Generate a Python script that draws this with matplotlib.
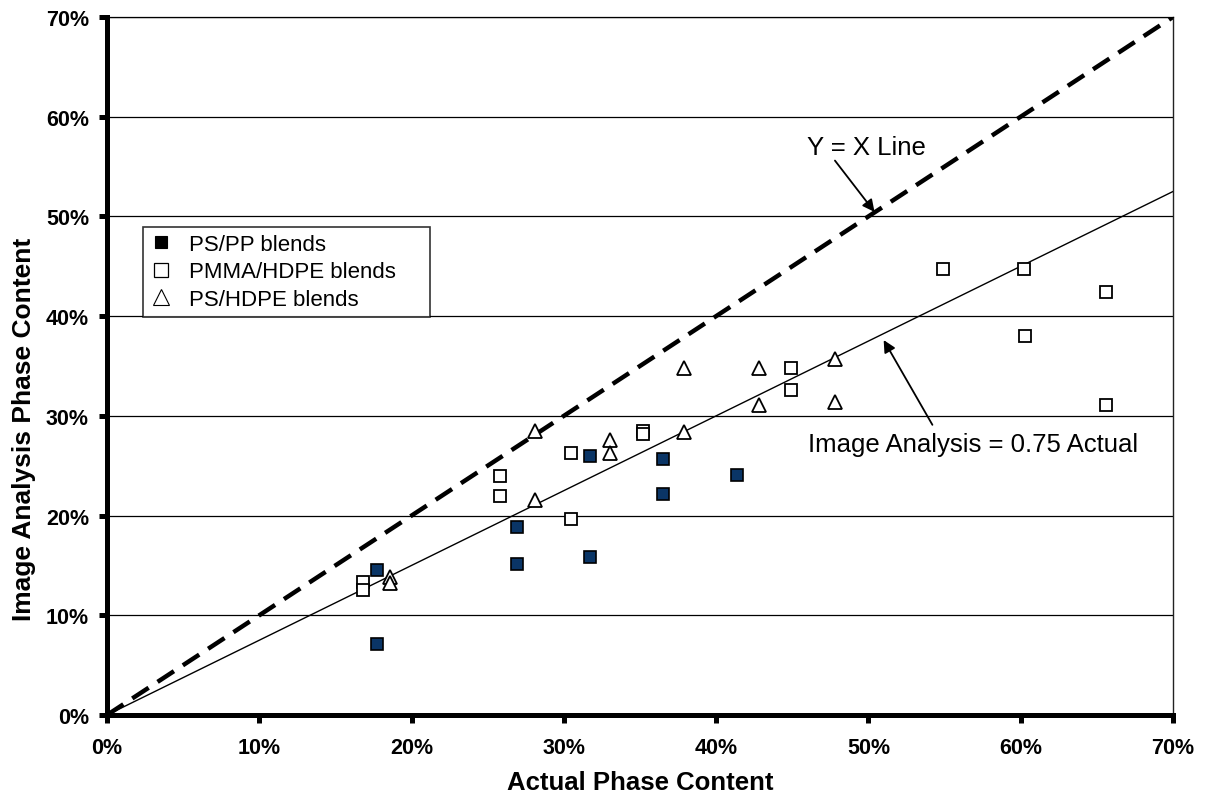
import matplotlib
matplotlib.use("Agg")
import matplotlib.pyplot as plt
from matplotlib.lines import Line2D

plt.rcParams['font.family'] = ['Liberation Sans', 'DejaVu Sans']

# ---- data (percent) ----
pspp_x = [17.7, 17.7, 26.9, 26.9, 31.7, 31.7, 36.5, 36.5, 41.4]
pspp_y = [14.5, 7.1, 18.9, 15.1, 26.0, 15.8, 25.7, 22.2, 24.1]

pmma_x = [16.8, 16.8, 25.8, 25.8, 30.5, 30.5, 35.2, 35.2, 44.9, 44.9, 54.9, 60.2, 60.3, 65.6, 65.6]
pmma_y = [13.3, 12.5, 24.0, 22.0, 26.3, 19.7, 28.5, 28.2, 34.8, 32.6, 44.7, 44.7, 38.0, 42.4, 31.1]

pshdpe_x = [18.6, 18.6, 28.1, 28.1, 33.0, 33.0, 37.9, 37.9, 42.8, 42.8, 47.8, 47.8]
pshdpe_y = [13.8, 13.2, 28.5, 21.6, 27.6, 26.3, 34.8, 28.4, 34.8, 31.1, 35.7, 31.4]

line_x = [0, 70]
yx_line = [0, 70]
fit_slope = 0.75
fit_line = [fit_slope * v for v in line_x]

ticks = [0, 10, 20, 30, 40, 50, 60, 70]
tick_labels = [f"{t}%" for t in ticks]

legend_labels = ["PS/PP blends", "PMMA/HDPE blends", "PS/HDPE blends"]

fig = plt.figure(figsize=(12.14, 8.04), dpi=100)
ax = fig.add_axes([0.08814, 0.10945, 0.8781, 0.8682])
ax.set_xlim(0, 70)
ax.set_ylim(0, 70)

# gridlines
for t in ticks[1:]:
    ax.axhline(t, color='black', lw=0.9, zorder=1)

# lines
ax.plot(line_x, yx_line, color='black', lw=3.2, dashes=(4.4, 2.4), zorder=2,
        solid_capstyle='butt', dash_capstyle='butt')
ax.plot(line_x, fit_line, color='black', lw=1.0, zorder=2)

# points
ax.plot(pspp_x, pspp_y, ls='none', marker='s', ms=9, mfc='#0a3566', mec='black', mew=1.2, zorder=4)
ax.plot(pmma_x, pmma_y, ls='none', marker='s', ms=9, mfc='white', mec='black', mew=1.3, zorder=4)
ax.plot(pshdpe_x, pshdpe_y, ls='none', marker='^', ms=10.5, mfc='white', mec='black', mew=1.3, zorder=4)

# annotations
ax.text(49.9, 57.0, "Y = X Line", ha='center', va='center', fontsize=18.5, zorder=5)
ax.annotate('', xy=(50.4, 50.45), xytext=(47.8, 55.6),
            arrowprops=dict(arrowstyle='-|>', color='black', lw=1.3, mutation_scale=18,
                            shrinkA=0, shrinkB=0), zorder=5)
ax.text(56.9, 27.2, "Image Analysis = 0.75 Actual", ha='center', va='center', fontsize=18.5, zorder=5)
ax.annotate('', xy=(51.0, 37.6), xytext=(54.2, 29.1),
            arrowprops=dict(arrowstyle='-|>', color='black', lw=1.3, mutation_scale=18,
                            shrinkA=0, shrinkB=0), zorder=5)

# spines & ticks
for s in ['left', 'bottom']:
    ax.spines[s].set_linewidth(3.6)
    ax.spines[s].set_color('black')
    ax.spines[s].set_zorder(6)
ax.spines['right'].set_linewidth(1.0)
ax.spines['right'].set_color('#222222')
ax.spines['top'].set_linewidth(0.9)
ax.spines['top'].set_color('black')

ax.set_xticks(ticks)
ax.set_xticklabels(tick_labels, fontsize=15.5, fontweight='bold')
ax.set_yticks(ticks)
ax.set_yticklabels(tick_labels, fontsize=15.5, fontweight='bold')
ax.tick_params(axis='both', direction='out', length=6, width=3.6, color='black')
ax.tick_params(axis='x', pad=10)
ax.tick_params(axis='y', pad=7)

ax.set_xlabel("Actual Phase Content", fontsize=18.5, fontweight='bold')
ax.xaxis.set_label_coords(0.5, -0.079)
ax.set_ylabel("Image Analysis Phase Content", fontsize=19, fontweight='bold')
ax.yaxis.set_label_coords(-0.067, 0.41)

# legend
handles = [
    Line2D([], [], ls='none', marker='s', ms=8.5, mfc='black', mec='black', mew=0.8),
    Line2D([], [], ls='none', marker='s', ms=9.5, mfc='white', mec='black', mew=0.9),
    Line2D([], [], ls='none', marker='^', ms=11.5, mfc='white', mec='black', mew=0.8),
]
leg = ax.legend(handles, legend_labels, loc='upper left',
                bbox_to_anchor=(0.0338, 0.699, 0.269, 0), mode='expand',
                fontsize=16, frameon=True, fancybox=False, borderaxespad=0,
                handlelength=1.0, handletextpad=0.75, borderpad=0.3, labelspacing=0.30)
leg.get_frame().set_edgecolor('black')
leg.get_frame().set_linewidth(1.2)
leg.set_zorder(7)

fig.savefig("out.png", dpi=100, facecolor='white')
